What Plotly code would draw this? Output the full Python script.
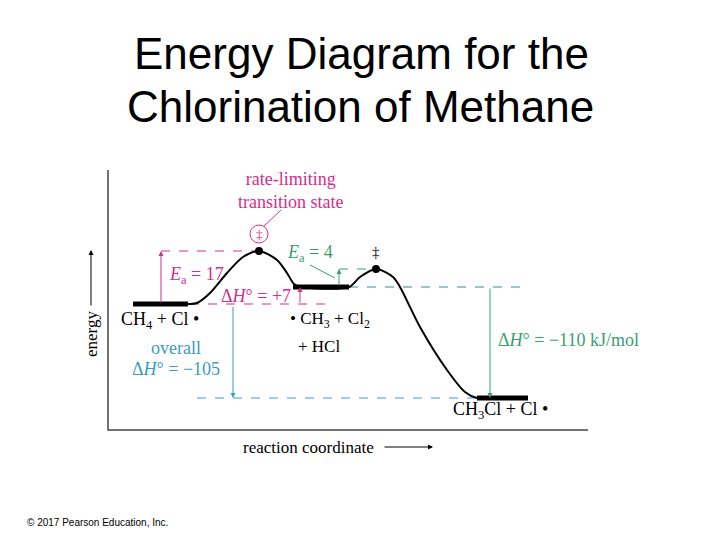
import plotly.graph_objects as go

# ---------------- data (schematic energy profile) ----------------
# reaction-coordinate positions and schematic energies of the profile's key points
profile_x = [133, 188, 197, 210, 227, 243, 259, 277, 287, 294, 301, 349, 360, 376, 393, 400, 420, 447, 465, 477, 528]
profile_e = [0, 0, 1, 11, 31, 47, 53, 44, 31, 20, 17, 17, 27, 35, 27, 17, -23, -66, -88, -94, -94]

# stable species (thick levels)
level_names = ["CH4 + Cl·", "·CH3 + Cl2 + HCl", "CH3Cl + Cl·"]
level_x0 = [133, 293, 477]
level_x1 = [188, 349, 528]
level_e = [0, 17, -94]

# transition states
ts_x = [259, 376]
ts_e = [53, 35]

# energy changes quoted on the diagram (kJ/mol)
ea1, dh1, ea2, dh_overall, dh_total = 17, 7, 4, -105, -110

# frame of the diagram
frame_x = [108, 108, 588]
frame_e = [134, -126, -126]

MAGENTA = "#d2308a"
TEAL = "#3a9cc2"
GREEN = "#3a9e74"
DKTEAL = "#2f8f8c"
SERIF = "Liberation Serif"

fig = go.Figure()

# frame
fig.add_trace(go.Scatter(x=frame_x, y=frame_e, mode="lines",
                         line=dict(color="#444444", width=1.5), hoverinfo="skip"))

# dashed guide lines
def dashed(xs, es, color, dash="dash", width=1):
    fig.add_trace(go.Scatter(x=xs, y=es, mode="lines",
                             line=dict(color=color, width=width, dash=dash), hoverinfo="skip"))

dashed([161, ts_x[0]], [ts_e[0], ts_e[0]], MAGENTA)
dashed([level_x1[0] + 2, 330], [level_e[0], level_e[0]], MAGENTA)
dashed([339, 368], [ts_e[1], ts_e[1]], GREEN)
dashed([level_x1[1], level_x1[2]], [level_e[1], level_e[1]], DKTEAL)
dashed([197, level_x0[2]], [level_e[2], level_e[2]], TEAL)

# profile curve
fig.add_trace(go.Scatter(x=profile_x, y=profile_e, mode="lines",
                         line=dict(color="black", width=2, shape="spline", smoothing=0.8),
                         hoverinfo="skip"))

# thick levels
for x0, x1, e in zip(level_x0, level_x1, level_e):
    fig.add_trace(go.Scatter(x=[x0, x1], y=[e, e], mode="lines",
                             line=dict(color="black", width=5), hoverinfo="skip"))

# transition-state dots
fig.add_trace(go.Scatter(x=ts_x, y=ts_e, mode="markers",
                         marker=dict(color="black", size=8), hoverinfo="skip"))

# leader lines
fig.add_shape(type="line", x0=263, y0=77, x1=281, y1=94, line=dict(color=MAGENTA, width=1))
fig.add_shape(type="line", x0=310, y0=39, x1=335, y1=26, line=dict(color=GREEN, width=1))
# circled double dagger
fig.add_shape(type="circle", x0=250, x1=268, y0=61, y1=79, line=dict(color=MAGENTA, width=1))


def arrow(x, e_head, e_tail, color, width=1, head=2, size=1):
    fig.add_annotation(x=x, y=e_head, ax=x, ay=e_tail, axref="x", ayref="y",
                       xref="x", yref="y", showarrow=True, text="",
                       arrowhead=head, arrowsize=size, arrowwidth=width, arrowcolor=color)


arrow(161, ts_e[0], level_e[0], MAGENTA)
arrow(300, level_e[1], level_e[0], MAGENTA)
arrow(339, ts_e[1], level_e[1], GREEN)
arrow(233, level_e[2], level_e[0] - 1, TEAL)
arrow(490, level_e[2], level_e[1], GREEN)


def label(x, e, text, color="black", size=18, **kw):
    fig.add_annotation(x=x, y=e, xref="x", yref="y", text=text, showarrow=False,
                       font=dict(family=SERIF, size=size, color=color), **kw)


label(290, 114, "rate-limiting<br>transition state", MAGENTA)
label(259, 70, "‡", MAGENTA, size=13)
label(376, 52, "‡", "black", size=15)
label(196, 29, f"<i>E</i><sub>a</sub> = {ea1}", MAGENTA)
label(256, 8, f"Δ<i>H</i>° = +{dh1}", MAGENTA)
label(310, 51, f"<i>E</i><sub>a</sub> = {ea2}", GREEN)
label(160, -16, "CH<sub>4</sub> + Cl •")
label(330, -16, "• CH<sub>3</sub> + Cl<sub>2</sub>", size=17)
label(319, -42, "+ HCl", size=17)
label(176, -44, "overall", TEAL)
label(176, -65, f"Δ<i>H</i>° = −{abs(dh_overall)}", TEAL)
label(568, -36, f"Δ<i>H</i>° = −{abs(dh_total)} kJ/mol", GREEN)
label(500, -106, "CH<sub>3</sub>Cl + Cl •")

# axis titles with arrows
label(308, -143, "reaction coordinate", size=17)
fig.add_annotation(x=433, y=-143, ax=383, ay=-143, axref="x", ayref="y", xref="x", yref="y",
                   showarrow=True, text="", arrowhead=2, arrowwidth=1, arrowcolor="black")
fig.add_annotation(x=91, y=-30, xref="x", yref="y", text="energy", textangle=-90, showarrow=False,
                   font=dict(family=SERIF, size=17, color="black"))
fig.add_annotation(x=91, y=54, ax=91, ay=-3, axref="x", ayref="y", xref="x", yref="y",
                   showarrow=True, text="", arrowhead=2, arrowwidth=1, arrowcolor="black")

# title and credit
fig.add_annotation(x=361 / 720, y=1 - 54 / 540, xref="paper", yref="paper", showarrow=False,
                   xanchor="center", yanchor="middle", text="Energy Diagram for the",
                   font=dict(family="Liberation Sans", size=44, color="black"))
fig.add_annotation(x=360 / 720, y=1 - 106 / 540, xref="paper", yref="paper", showarrow=False,
                   xanchor="center", yanchor="middle", text="Chlorination of Methane",
                   font=dict(family="Liberation Sans", size=44, color="black"))
fig.add_annotation(x=25 / 720, y=1 - 522 / 540, xref="paper", yref="paper", showarrow=False,
                   xanchor="left", yanchor="middle", text="© 2017 Pearson Education, Inc.",
                   font=dict(family="Liberation Sans", size=10, color="black"))

fig.update_layout(
    width=720, height=540, autosize=False,
    margin=dict(l=0, r=0, t=0, b=0),
    paper_bgcolor="white", plot_bgcolor="white",
    showlegend=False,
    xaxis=dict(range=[0, 720], visible=False, fixedrange=True),
    yaxis=dict(range=[304 - 540, 304], visible=False, fixedrange=True),
)

fig.write_html("out.html", config={"displayModeBar": False},
               post_script="document.body.style.margin='0';")
